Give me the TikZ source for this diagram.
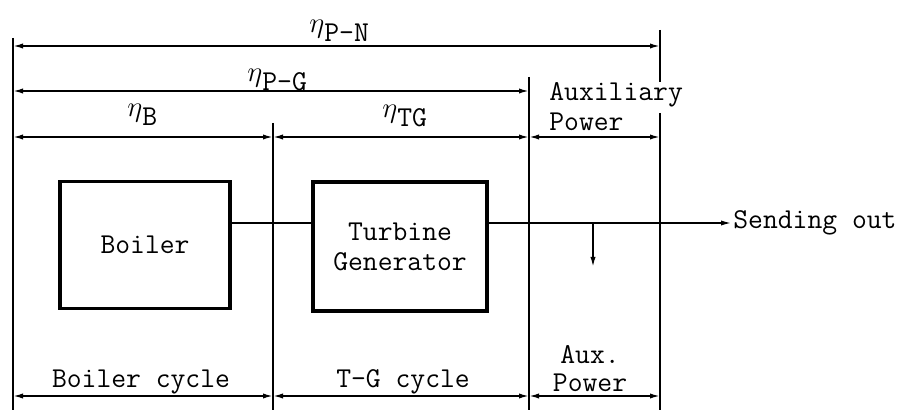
\documentclass[tikz,border=0pt]{standalone}
\usetikzlibrary{positioning,arrows.meta}
\newcommand{\effi}[1]{$\eta$\raisebox{-4.5pt}{#1}}

\begin{document}
\begin{tikzpicture}[x=0.5pt,y=-0.5pt,
    every node/.style={font=\ttfamily\fontsize{14.4}{15}\selectfont,inner sep=1pt},
    dim/.style={{Latex[length=5pt,width=2.6pt]}-{Latex[length=5pt,width=2.6pt]},line width=0.8pt},
    wall/.style={line width=1.3pt},
    unit/.style={draw,line width=1.6pt,align=center}]
        \useasboundingbox (0,0) rectangle (899,410);
        % walls and rows
        \coordinate (wallA) at (13,38);
        \coordinate (wallB) at (273,123);
        \coordinate (wallC) at (529,77);
        \coordinate (wallD) at (660,30);
        \coordinate (gapT) at (660,82);
        \coordinate (gapB) at (660,113);
        \coordinate (floor) at (0,410);
        \coordinate (rowPN) at (0,46);
        \coordinate (rowPG) at (0,91);
        \coordinate (rowB) at (0,137);
        \coordinate (rowC) at (0,396);
        \draw[wall] (wallA) -- (wallA |- floor);
        \draw[wall] (wallB) -- (wallB |- floor);
        \draw[wall] (wallC) -- (wallC |- floor);
        \draw[wall] (wallD) -- (gapT);
        \draw[wall] (gapB) -- (gapB |- floor);
        % efficiencies
        \node[anchor=base west] (pn) at (307,33) {\effi{P-N}};
        \node[anchor=base west] (pg) at (245,82) {\effi{P-G}};
        \node[anchor=base west] (eb) at (125,117) {\effi{B}};
        \node[anchor=base west] (etg) at (380,118) {\effi{TG}};
        \node[anchor=west,align=left] (auxtop) at (547,107) {Auxiliary\\Power};
        \draw[dim] (wallA |- rowPN) -- (wallD |- rowPN);
        \draw[dim] (wallA |- rowPG) -- (wallC |- rowPG);
        \draw[dim] (wallA |- rowB) -- (wallB |- rowB);
        \draw[dim] (wallB |- rowB) -- (wallC |- rowB);
        \draw[dim] (wallC |- rowB) -- (wallD |- rowB);
        % plant
        \node[unit,minimum width=85pt,minimum height=63.5pt] (boiler) at (145,245) {Boiler};
        \node[unit,minimum width=87pt,minimum height=64.5pt] (tg) at (400,246.5) {Turbine\\Generator};
        \node[anchor=west] (out) at (731,223) {Sending out};
        \coordinate (link) at (0,223);
        \coordinate (tap) at (593,223);
        \coordinate (auxend) at (593,267);
        \draw[line width=0.65pt] (boiler.east |- link) -- (tg.west |- link);
        \draw[line width=0.65pt,-{Latex[length=5pt,width=2.6pt]}] (tg.east |- link) -- (out.west);
        \draw[line width=0.8pt,-{Latex[length=5pt,width=2.6pt]}] (tap) -- (auxend);
        % cycles
        \node[anchor=base] (bc) at (141,388) {Boiler cycle};
        \node[anchor=base] (tgc) at (403,388) {T-G cycle};
        \node[align=center,font=\ttfamily\fontsize{14.4}{14}\selectfont] (auxbot) at (590,369) {Aux.\\Power};
        \draw[dim] (wallA |- rowC) -- (wallB |- rowC);
        \draw[dim] (wallB |- rowC) -- (wallC |- rowC);
        \draw[dim] (wallC |- rowC) -- (wallD |- rowC);
      \end{tikzpicture}
\end{document}
